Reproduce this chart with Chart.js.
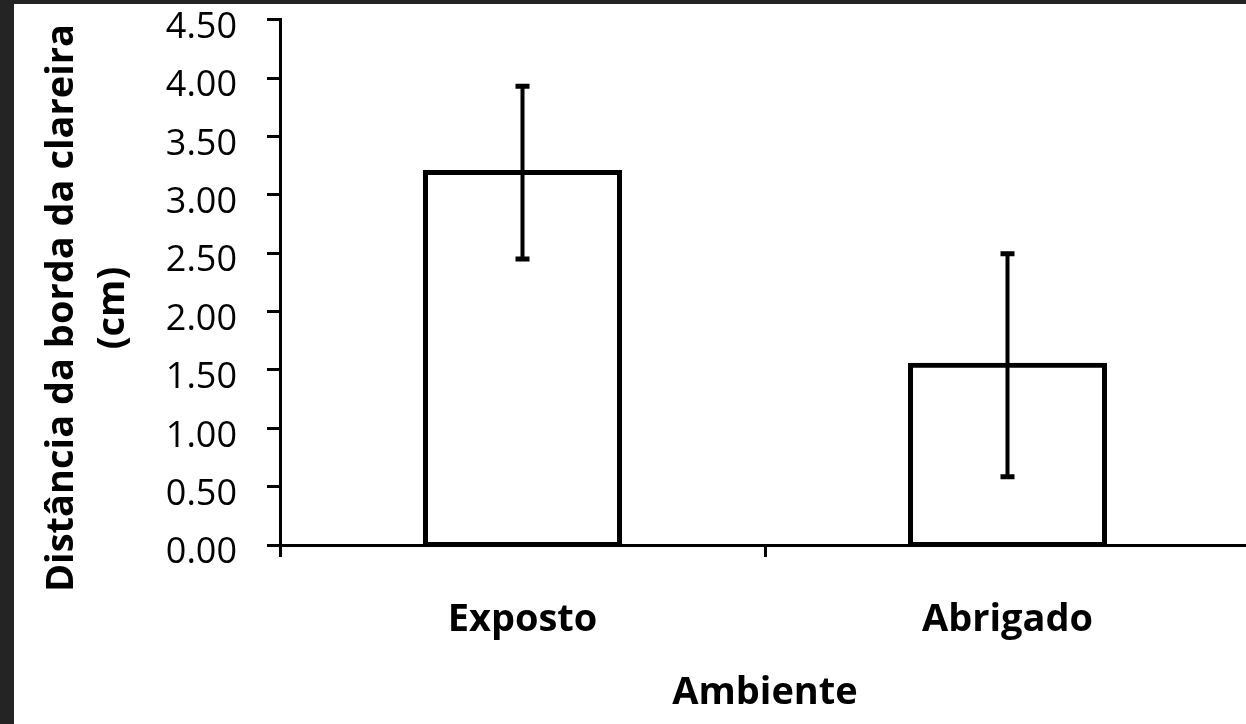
<!DOCTYPE html>
<html>
<head>
<meta charset="utf-8">
<script src="https://cdn.jsdelivr.net/npm/chart.js@4.4.0/dist/chart.umd.min.js"></script>
<style>
  html, body { margin: 0; padding: 0; background: #242424; overflow: hidden; width: 1246px; height: 724px; }
  #topbar { position: absolute; left: 0; top: 0; width: 1246px; height: 4px; background: #242424; z-index: 2; }
  #frame { position: absolute; left: 14px; top: -31px; width: 1236px; height: 755px; background: #fff; }
</style>
</head>
<body>
<div id="topbar"></div>
<div id="frame"><canvas id="grafico" width="1236" height="755"></canvas></div>
<script>
const ambientes = ['Exposto', 'Abrigado'];
const medias = [3.19, 1.54];
const erros = [0.74, 0.955];
const yMin = 0;
const yMax = 4.5;
const yPasso = 0.5;
const tituloX = 'Ambiente';
const tituloY = ['Distância da borda da clareira', '(cm)'];

const fonte = '"Open Sans", "Noto Sans", sans-serif';

// barras de erro desenhadas a partir da escala y
const errorBars = {
    id: 'errorBars',
    afterDatasetsDraw(chart) {
        const ctx = chart.ctx;
        const yScale = chart.scales.y;
        const meta = chart.getDatasetMeta(0);
        ctx.save();
        ctx.strokeStyle = '#000';
        meta.data.forEach((bar, i) => {
            const x = bar.x;
            const yTop = yScale.getPixelForValue(medias[i] + erros[i]);
            const yBot = yScale.getPixelForValue(medias[i] - erros[i]);
            ctx.lineWidth = 4;
            ctx.beginPath();
            ctx.moveTo(x, yTop);
            ctx.lineTo(x, yBot);
            ctx.stroke();
            ctx.lineWidth = 5;
            ctx.beginPath();
            ctx.moveTo(x - 7, yTop);
            ctx.lineTo(x + 7, yTop);
            ctx.moveTo(x - 7, yBot);
            ctx.lineTo(x + 7, yBot);
            ctx.stroke();
        });
        ctx.restore();
    }
};

// titulo do eixo y em duas linhas
const yTitle = {
    id: 'yTitle',
    afterDraw(chart) {
        const ctx = chart.ctx;
        ctx.save();
        ctx.fillStyle = '#000';
        ctx.font = 'bold 38px ' + fonte;
        ctx.textAlign = 'center';
        ctx.textBaseline = 'middle';
        ctx.translate(48, 339);
        ctx.rotate(-Math.PI / 2);
        ctx.fillText(tituloY[0], 0, 0);
        ctx.fillText(tituloY[1], 0, 51);
        ctx.restore();
    }
};

const ctx = document.getElementById('grafico').getContext('2d');
new Chart(ctx, {
    type: 'bar',
    data: {
        labels: ambientes,
        datasets: [{
            data: medias,
            backgroundColor: '#fff',
            borderColor: '#000',
            borderWidth: 5,
            borderSkipped: false,
            inflateAmount: 2.5,
            categoryPercentage: 1,
            barPercentage: 0.4
        }]
    },
    options: {
        responsive: false,
        animation: false,
        devicePixelRatio: 1,
        layout: { padding: 0 },
        plugins: {
            legend: { display: false },
            tooltip: { enabled: false }
        },
        scales: {
            x: {
                grid: { display: true, drawOnChartArea: false, offset: true, tickLength: 12, tickColor: '#000', tickWidth: 3 },
                border: { display: true, color: '#000', width: 3, z: 1 },
                ticks: { color: '#000', padding: 40, font: { family: fonte, size: 38, weight: 'bold' } },
                title: { display: true, text: tituloX, color: '#000', padding: { top: 0, bottom: 8 }, font: { family: fonte, size: 38, weight: 'bold' } },
                afterFit(scale) { scale.height = 755 - 576; }
            },
            y: {
                min: yMin,
                max: yMax,
                grid: { display: true, drawOnChartArea: false, tickLength: 13, tickColor: '#000', tickWidth: 3 },
                border: { display: true, color: '#000', width: 3 },
                ticks: {
                    stepSize: yPasso,
                    color: '#000',
                    padding: 30,
                    labelOffset: 8,
                    font: { family: fonte, size: 36, lineHeight: 1.15 },
                    callback: v => v.toFixed(2)
                },
                afterFit(scale) { scale.width = 266; }
            }
        }
    },
    plugins: [errorBars, yTitle]
});
</script>
</body>
</html>
